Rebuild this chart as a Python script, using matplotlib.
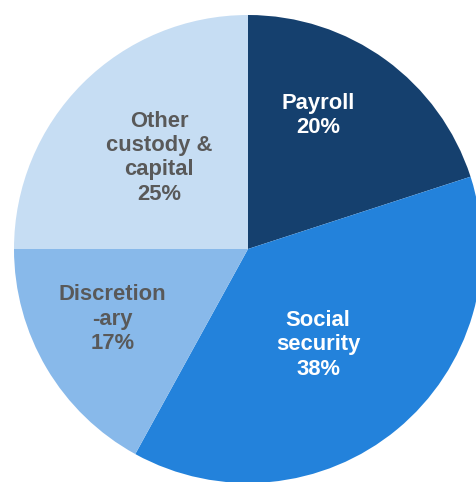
import matplotlib.pyplot as plt

labels = ['Payroll', 'Social\nsecurity', 'Discretion\n-ary', 'Other\ncustody &\ncapital']
shares = [20, 38, 17, 25]
colors = ['#15406E', '#2382DB', '#88B9EA', '#C6DDF3']
text_colors = ['white', 'white', '#595959', '#595959']
# label centres in pie-radius units
label_pos = [(0.30, 0.57), (0.30, -0.41), (-0.58, -0.30), (-0.38, 0.39)]

W, H = 477, 482
R, CX, CY = 234, 248, 249

fig = plt.figure(figsize=(W / 100, H / 100), dpi=100)
ax = fig.add_axes([(CX - R) / W, (H - CY - R) / H, 2 * R / W, 2 * R / H])
ax.pie(shares, colors=colors, startangle=90, counterclock=False, radius=1,
       wedgeprops=dict(linewidth=0))
for lab, val, (x, y), tc in zip(labels, shares, label_pos, text_colors):
    ax.text(x, y, f'{lab}\n{val}%', ha='center', va='center', color=tc,
            fontsize=15.8, fontweight='bold', family='Liberation Sans',
            linespacing=1.2)
ax.set_xlim(-1, 1)
ax.set_ylim(-1, 1)
ax.set_aspect('equal')
ax.axis('off')

fig.savefig('out.png', dpi=100)
